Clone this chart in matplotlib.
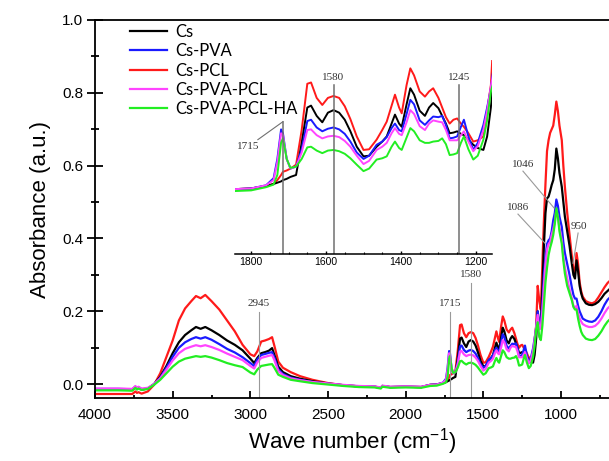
import numpy as np
import matplotlib
matplotlib.use('Agg')
import matplotlib.pyplot as plt
from matplotlib.ticker import MultipleLocator

plt.rcParams['mathtext.fontset'] = 'custom'
plt.rcParams['mathtext.rm'] = 'Liberation Sans'
plt.rcParams['mathtext.it'] = 'Liberation Sans'

# wave numbers (cm-1) and absorbance of the five samples
wn = [4000, 3850, 3760, 3740, 3730, 3720, 3700, 3660, 3620, 3580, 3540, 3500, 3460, 3420,
      3380, 3350, 3320, 3290, 3250, 3200, 3150, 3100, 3050, 3000, 2975, 2955, 2930, 2905,
      2880, 2860, 2845, 2820, 2790, 2740, 2680, 2600, 2500, 2400, 2300, 2200, 2160, 2150,
      2100, 2000, 1900, 1843, 1800, 1760, 1740, 1730, 1720, 1715, 1705, 1695, 1680, 1665,
      1650, 1640, 1625, 1610, 1595, 1580, 1565, 1550, 1535, 1518, 1500, 1485, 1465, 1450,
      1438, 1425, 1416, 1405, 1398, 1385, 1375, 1365, 1350, 1336, 1325, 1314, 1300, 1290,
      1280, 1270, 1260, 1250, 1240, 1232, 1220, 1207, 1195, 1180, 1170, 1160, 1150, 1140,
      1130, 1120, 1110, 1100, 1090, 1080, 1070, 1060, 1050, 1040, 1030, 1020, 1010, 995,
      985, 975, 960, 945, 930, 920, 910, 900, 890, 880, 870, 860, 840, 820, 800, 780, 760,
      740, 720, 700, 690]

cs = [-0.015, -0.015, -0.016, -0.008, -0.013, -0.009, -0.015, -0.012, 0.000, 0.020, 0.050, 0.085, 0.115, 0.135,
      0.148, 0.157, 0.152, 0.157, 0.148, 0.135, 0.120, 0.108, 0.093, 0.070, 0.058, 0.072, 0.085, 0.088,
      0.092, 0.099, 0.080, 0.048, 0.033, 0.022, 0.015, 0.008, 0.002, -0.003, -0.006, -0.007, -0.010, -0.005,
      -0.008, -0.007, -0.008, -0.002, -0.001, 0.003, 0.006, 0.008, 0.010, 0.012, 0.014, 0.017, 0.020, 0.070,
      0.125, 0.128, 0.112, 0.102, 0.117, 0.121, 0.117, 0.106, 0.088, 0.064, 0.049, 0.050, 0.064, 0.072,
      0.080, 0.100, 0.114, 0.100, 0.095, 0.130, 0.155, 0.145, 0.120, 0.112, 0.125, 0.132, 0.124, 0.112,
      0.100, 0.085, 0.086, 0.088, 0.084, 0.082, 0.075, 0.067, 0.062, 0.059, 0.080, 0.125, 0.200, 0.160,
      0.170, 0.260, 0.380, 0.470, 0.510, 0.515, 0.530, 0.547, 0.560, 0.590, 0.647, 0.620, 0.580, 0.542,
      0.500, 0.460, 0.420, 0.380, 0.330, 0.300, 0.290, 0.340, 0.310, 0.270, 0.249, 0.235, 0.222, 0.218, 0.217, 0.220, 0.226,
      0.236, 0.248, 0.256, 0.260]

cs_pva = [-0.013, -0.013, -0.014, -0.007, -0.012, -0.009, -0.014, -0.012, 0.000, 0.018, 0.045, 0.075, 0.100, 0.115,
          0.124, 0.129, 0.125, 0.129, 0.122, 0.110, 0.097, 0.087, 0.074, 0.058, 0.050, 0.068, 0.080, 0.083,
          0.086, 0.088, 0.073, 0.040, 0.028, 0.018, 0.012, 0.006, 0.001, -0.003, -0.006, -0.007, -0.010, -0.005,
          -0.008, -0.007, -0.008, -0.002, -0.001, 0.004, 0.015, 0.045, 0.091, 0.085, 0.045, 0.030, 0.033, 0.060,
          0.104, 0.106, 0.094, 0.088, 0.092, 0.094, 0.091, 0.084, 0.072, 0.055, 0.045, 0.050, 0.067, 0.072,
          0.079, 0.093, 0.100, 0.090, 0.088, 0.115, 0.137, 0.130, 0.105, 0.098, 0.105, 0.111, 0.110, 0.112,
          0.098, 0.077, 0.078, 0.080, 0.095, 0.106, 0.080, 0.059, 0.070, 0.098, 0.125, 0.155, 0.200, 0.160,
          0.165, 0.220, 0.300, 0.350, 0.385, 0.395, 0.400, 0.420, 0.450, 0.470, 0.507, 0.490, 0.460, 0.432,
          0.390, 0.360, 0.330, 0.300, 0.265, 0.245, 0.235, 0.235, 0.215, 0.200, 0.190, 0.180, 0.175, 0.172, 0.171, 0.175, 0.185,
          0.200, 0.218, 0.232, 0.236]

cs_pcl = [-0.027, -0.027, -0.027, -0.020, -0.024, -0.022, -0.026, -0.020, -0.002, 0.030, 0.075, 0.120, 0.175, 0.208,
          0.228, 0.242, 0.236, 0.245, 0.228, 0.205, 0.175, 0.145, 0.108, 0.082, 0.077, 0.090, 0.117, 0.120,
          0.124, 0.129, 0.105, 0.062, 0.045, 0.033, 0.022, 0.012, 0.003, -0.003, -0.006, -0.007, -0.010, -0.005,
          -0.008, -0.007, -0.008, -0.002, -0.001, 0.003, 0.006, 0.012, 0.020, 0.025, 0.027, 0.030, 0.036, 0.090,
          0.162, 0.164, 0.140, 0.129, 0.140, 0.143, 0.140, 0.127, 0.107, 0.080, 0.059, 0.060, 0.075, 0.090,
          0.103, 0.128, 0.145, 0.125, 0.116, 0.160, 0.186, 0.175, 0.150, 0.142, 0.150, 0.155, 0.140, 0.125,
          0.110, 0.100, 0.106, 0.108, 0.100, 0.095, 0.085, 0.072, 0.074, 0.080, 0.120, 0.160, 0.270, 0.230,
          0.205, 0.330, 0.450, 0.550, 0.640, 0.670, 0.690, 0.700, 0.710, 0.740, 0.776, 0.750, 0.710, 0.670,
          0.600, 0.542, 0.470, 0.410, 0.350, 0.315, 0.305, 0.360, 0.330, 0.280, 0.255, 0.240, 0.228, 0.224, 0.222, 0.226, 0.238,
          0.252, 0.266, 0.278, 0.282]

cs_pva_pcl = [-0.012, -0.012, -0.013, -0.005, -0.010, -0.007, -0.012, -0.010, 0.000, 0.016, 0.040, 0.065, 0.085, 0.097,
              0.103, 0.107, 0.104, 0.107, 0.102, 0.094, 0.084, 0.075, 0.066, 0.050, 0.043, 0.060, 0.072, 0.075,
              0.078, 0.080, 0.066, 0.036, 0.025, 0.016, 0.011, 0.006, 0.002, -0.002, -0.005, -0.006, -0.009, -0.004,
              -0.007, -0.006, -0.007, -0.002, -0.001, 0.004, 0.012, 0.040, 0.085, 0.082, 0.045, 0.030, 0.033, 0.055,
              0.090, 0.091, 0.082, 0.077, 0.080, 0.081, 0.079, 0.073, 0.064, 0.050, 0.037, 0.042, 0.059, 0.064,
              0.070, 0.085, 0.093, 0.084, 0.082, 0.102, 0.121, 0.115, 0.096, 0.090, 0.100, 0.105, 0.103, 0.102,
              0.090, 0.074, 0.074, 0.074, 0.082, 0.088, 0.072, 0.057, 0.065, 0.090, 0.120, 0.158, 0.190, 0.150,
              0.155, 0.200, 0.270, 0.330, 0.370, 0.385, 0.390, 0.410, 0.425, 0.445, 0.478, 0.460, 0.430, 0.396,
              0.350, 0.320, 0.290, 0.260, 0.235, 0.215, 0.210, 0.215, 0.195, 0.180, 0.172, 0.165, 0.160, 0.157, 0.157, 0.160, 0.168,
              0.180, 0.195, 0.208, 0.212]

cs_pva_pcl_ha = [-0.017, -0.017, -0.018, -0.010, -0.015, -0.012, -0.016, -0.013, -0.002, 0.012, 0.030, 0.048, 0.062, 0.070,
                 0.074, 0.077, 0.075, 0.077, 0.073, 0.066, 0.058, 0.052, 0.047, 0.032, 0.027, 0.040, 0.050, 0.052,
                 0.054, 0.055, 0.045, 0.026, 0.020, 0.012, 0.008, 0.003, -0.001, -0.005, -0.008, -0.009, -0.012, -0.007,
                 -0.010, -0.009, -0.010, -0.005, -0.004, 0.001, 0.005, 0.020, 0.070, 0.077, 0.045, 0.031, 0.033, 0.045,
                 0.063, 0.064, 0.058, 0.054, 0.058, 0.059, 0.057, 0.053, 0.046, 0.036, 0.026, 0.030, 0.044, 0.046,
                 0.049, 0.064, 0.072, 0.062, 0.059, 0.078, 0.093, 0.088, 0.074, 0.070, 0.070, 0.072, 0.073, 0.077,
                 0.068, 0.051, 0.052, 0.054, 0.070, 0.080, 0.060, 0.044, 0.050, 0.075, 0.105, 0.150, 0.170, 0.130,
                 0.121, 0.160, 0.220, 0.280, 0.320, 0.355, 0.375, 0.390, 0.410, 0.440, 0.483, 0.460, 0.420, 0.386,
                 0.340, 0.304, 0.270, 0.250, 0.230, 0.212, 0.205, 0.205, 0.180, 0.160, 0.144, 0.135, 0.125, 0.122, 0.121, 0.124, 0.133,
                 0.145, 0.160, 0.172, 0.176]

labels = ['Cs', 'Cs-PVA', 'Cs-PCL', 'Cs-PVA-PCL', 'Cs-PVA-PCL-HA']
colors = ['#000000', '#1a1aff', '#ff1a1a', '#ff44ff', '#22ee22']
series = [cs, cs_pva, cs_pcl, cs_pva_pcl, cs_pva_pcl_ha]
# draw order: red under, so the others stay visible
order = [2, 0, 1, 3, 4]

fig = plt.figure(figsize=(6.09, 4.61), dpi=100)
ax = fig.add_axes([95 / 609, 1 - 398 / 461, 1 - 95 / 609, 378 / 461])

handles = {}
for i in order:
    h, = ax.plot(wn, series[i], color=colors[i], lw=1.6, label=labels[i])
    handles[i] = h

ax.set_xlim(4000, 691)
ax.set_ylim(-0.038, 1.0)
ax.xaxis.set_major_locator(MultipleLocator(500))
ax.xaxis.set_minor_locator(MultipleLocator(250))
ax.yaxis.set_major_locator(MultipleLocator(0.2))
ax.yaxis.set_minor_locator(MultipleLocator(0.1))
ax.yaxis.set_major_formatter(plt.FormatStrFormatter('%.1f'))
ax.tick_params(axis='y', which='major', direction='inout', length=11, width=1.3, labelsize=11, pad=3)
ax.tick_params(axis='y', which='minor', direction='inout', length=5.5, width=1.3)
ax.tick_params(axis='x', which='major', direction='in', length=5, width=1.3, labelsize=11, pad=7)
ax.tick_params(axis='x', which='minor', direction='in', length=2.5, width=1.3)
ax.spines['right'].set_visible(False)
for s in ['left', 'bottom', 'top']:
    ax.spines[s].set_linewidth(1.3)

for lab in ax.get_xticklabels() + ax.get_yticklabels():
    lab.set_family('Liberation Sans')

ax.set_xlabel('Wave number (cm$^{\\mathrm{-1}}$)', fontsize=16, family='Liberation Sans', labelpad=3)
ax.set_ylabel('Absorbance (a.u.)', fontsize=16, family='Liberation Sans', labelpad=8)

# peak markers on the main plot
ann_font = dict(family='Liberation Serif', fontsize=8, color='#333333')
gray = '#999999'
for x, top in [(2945, 0.198), (1715, 0.198), (1580, 0.277)]:
    ax.plot([x, x], [-0.038, top], color=gray, lw=0.8)
    ax.text(x, top + 0.012, str(x), ha='center', va='bottom', **ann_font)

ax.plot([1245, 1045], [0.585, 0.484], color=gray, lw=0.8)
ax.text(1245, 0.59, '1046', ha='center', va='bottom', **ann_font)
ax.plot([1277, 1103], [0.467, 0.387], color=gray, lw=0.8)
ax.text(1277, 0.472, '1086', ha='center', va='bottom', **ann_font)
ax.plot([890, 923], [0.415, 0.332], color=gray, lw=0.8)
ax.text(888, 0.42, '950', ha='center', va='bottom', **ann_font)

leg = ax.legend([handles[i] for i in range(5)], labels, loc='upper left',
                bbox_to_anchor=(130 / 609, 1 - 24 / 461), bbox_transform=fig.transFigure,
                frameon=False, borderpad=0, borderaxespad=0, handlelength=2.2,
                handletextpad=0.5, labelspacing=0.2, prop={'family': 'Lato', 'size': 12})

# inset: zoom of the 1850-1150 region
ins = fig.add_axes([235 / 609, 1 - 254 / 461, 257 / 609, 194 / 461])
ins.patch.set_alpha(0)
for i in order:
    ins.plot(wn, series[i], color=colors[i], lw=1.4)
ins.set_xlim(1843, 1157)
ins.set_ylim(-0.103, 0.199)
ins.set_yticks([])
for s in ['left', 'right', 'top']:
    ins.spines[s].set_visible(False)
ins.spines['bottom'].set_linewidth(1.1)
ins.xaxis.set_major_locator(MultipleLocator(200))
ins.xaxis.set_minor_locator(MultipleLocator(50))
ins.tick_params(axis='x', which='major', direction='in', length=2.5, width=1, labelsize=7.5, pad=2)
ins.tick_params(axis='x', which='minor', direction='in', length=1.5, width=0.8)
for lab in ins.get_xticklabels():
    lab.set_family('Liberation Sans')

line_gray = '#707070'
ins.plot([1715, 1715], [-0.103, 0.103], color=line_gray, lw=1.1)
ins.plot([1715, 1782], [0.103, 0.075], color=line_gray, lw=0.8)
ins.text(1808, 0.064, '1715', ha='center', va='center', **ann_font)
for x in [1580, 1245]:
    ins.plot([x, x], [-0.103, 0.16], color=line_gray, lw=1.1)
    ins.text(x, 0.164, str(x), ha='center', va='bottom', **ann_font)

fig.savefig('out.png', dpi=100)
